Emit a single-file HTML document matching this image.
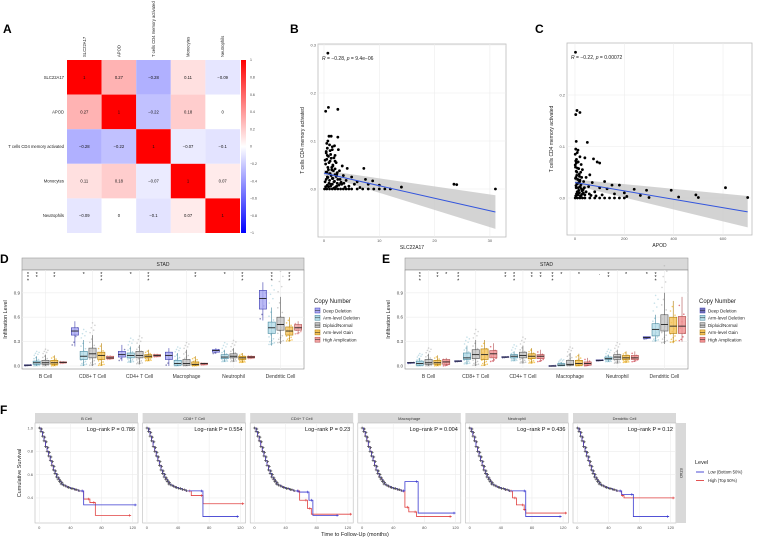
<!DOCTYPE html>
<html><head><meta charset="utf-8"><style>
html,body{margin:0;padding:0;background:#fff;}
svg{display:block;font-family:"Liberation Sans",sans-serif;}
</style></head><body>
<svg id="fig" width="760" height="539" viewBox="0 0 760 539" xmlns="http://www.w3.org/2000/svg"></svg>
<script>
// ---------- DATA ----------
const hmLabels = ["SLC22A17","APOD","T cells CD4 memory activated","Monocytes","Neutrophils"];
const hmValues = [[1,0.27,-0.28,0.11,-0.09],[0.27,1,-0.22,0.18,0],[-0.28,-0.22,1,-0.07,-0.1],[0.11,0.18,-0.07,1,0.07],[-0.09,0,-0.1,0.07,1]];
const cbTicks = [1,0.8,0.6,0.4,0.2,0,-0.2,-0.4,-0.6,-0.8,-1];

const bX = [0.7,0.3,0.8,2.5,0.9,1.3,2.5,0.5,1,0.6,1.5,2.6,0.4,1.2,2,0.8,1.8,0.5,1.1,2.2,0.3,1.6,3.3,0.7,4.2,7.2,1.4,2.8,0.4,1,2,3.5,5,0.6,1.5,2.5,7.5,8.8,4,6,0.2,3,1.2,5.5,8,10,2.3,0.8,23.5,24,14,31,0.1,0.5,1,1.5,2,2.5,3,3.5,4,4.5,5,6,7,8,9,10,11,12,1.8,3.8,6.5,
 0.3,0.6,0.9,1.2,1.5,1.8,2.1,2.4,0.4,0.7,1.0,1.3,1.6,1.9,2.2,2.7,3.1,0.5,0.8,1.1,1.4,1.7,2.0,2.3,2.9,3.6,4.5,0.2,0.9,1.6,2.4,3.2,0.6,1.3,2.0,0.4,1.1,1.9,0.7,1.5];
const bY = [0.283,0.162,0.17,0.166,0.11,0.11,0.108,0.095,0.092,0.085,0.082,0.082,0.075,0.072,0.07,0.068,0.065,0.062,0.058,0.055,0.052,0.05,0.048,0.045,0.043,0.043,0.04,0.038,0.035,0.032,0.03,0.028,0.025,0.025,0.022,0.02,0.02,0.017,0.018,0.015,0.015,0.012,0.01,0.01,0.01,0.008,0.006,0.005,0.01,0.009,0.004,0,0,0,0,0,0,0,0,0,0,0,0,0,0,0,0,0,0,0,0.002,0.004,0.003,
 0.005,0.008,0.012,0.006,0.01,0.015,0.004,0.012,0.02,0.024,0.018,0.028,0.022,0.016,0.026,0.008,0.014,0.035,0.04,0.032,0.045,0.038,0.042,0.03,0.02,0.012,0.006,0.06,0.055,0.048,0.034,0.01,0.07,0.064,0.058,0.078,0.08,0.09,0.1,0.088];
const bFit = [[0,0.033,0.028,0.039],[31,-0.048,-0.083,-0.013]];
const cX = [2,3,8,20,5,50,3,12,1,20,40,75,90,100,5,25,2,15,30,60,8,45,4,20,35,70,120,10,150,180,55,100,130,240,290,390,610,200,80,160,265,420,490,500,700,300,1,10,20,30,40,60,80,100,120,140,160,180,200,210,5,15,25,
 3,6,9,12,15,18,22,26,30,4,8,14,19,24,28,34,40,2,7,11,16,21,33,45,58,65,85,110,5,10,17,27,38,1,13,23,6,18,9,3];
const cY = [0.283,0.162,0.17,0.166,0.11,0.108,0.095,0.093,0.085,0.08,0.078,0.076,0.07,0.068,0.068,0.065,0.06,0.057,0.055,0.045,0.05,0.04,0.04,0.035,0.032,0.03,0.032,0.028,0.025,0.025,0.022,0.02,0.018,0.017,0.015,0.015,0.02,0.01,0.012,0.008,0.005,0.002,0.006,0.001,0.001,0.001,0,0,0,0,0,0,0,0,0,0,0,0,0,0.003,0.02,0.01,0.005,
 0.004,0.008,0.012,0.006,0.015,0.01,0.004,0.018,0.008,0.024,0.028,0.02,0.032,0.026,0.014,0.01,0.006,0.038,0.044,0.036,0.03,0.022,0.016,0.012,0.008,0.005,0.004,0.006,0.052,0.058,0.046,0.04,0.02,0.064,0.07,0.05,0.075,0.042,0.088,0.072];
const cFit = [[0,0.03,0.024,0.036],[700,-0.027,-0.057,0.004]];

const cellTypes = ["B Cell","CD8+ T Cell","CD4+ T Cell","Macrophage","Neutrophil","Dendritic Cell"];
const cnGroups = ["Deep Deletion","Arm-level Deletion","Diploid/Normal","Arm-level Gain","High Amplication"];
const dStats = [
 [[0.01,0.005,0.015,0,0.02],[0.04,0.02,0.06,0,0.12],[0.04,0.02,0.07,0,0.14],[0.04,0.02,0.07,0,0.13],[0.045,0.04,0.05,0.03,0.06]],
 [[0.43,0.38,0.47,0.24,0.55],[0.12,0.08,0.18,0,0.32],[0.15,0.1,0.22,0,0.38],[0.13,0.08,0.17,0,0.28],[0.1,0.09,0.12,0.08,0.13]],
 [[0.14,0.11,0.18,0.06,0.26],[0.13,0.1,0.16,0.04,0.24],[0.13,0.1,0.18,0.02,0.26],[0.12,0.1,0.14,0.06,0.2],[0.13,0.12,0.14,0.11,0.15]],
 [[0.13,0.08,0.17,0,0.22],[0.03,0.01,0.07,0,0.16],[0.03,0.01,0.08,0,0.2],[0.02,0.01,0.05,0,0.12],[0.03,0.02,0.035,0.01,0.04]],
 [[0.19,0.17,0.2,0.15,0.22],[0.11,0.09,0.14,0.05,0.2],[0.12,0.1,0.15,0.05,0.22],[0.1,0.08,0.12,0.04,0.16],[0.11,0.1,0.12,0.09,0.13]],
 [[0.83,0.7,0.93,0.56,1.03],[0.47,0.4,0.54,0.25,0.72],[0.51,0.44,0.6,0.27,0.85],[0.43,0.38,0.48,0.3,0.6],[0.47,0.44,0.51,0.39,0.55]]];
const eStats = [
 [[0.04,0.035,0.045,0.03,0.05],[0.03,0.01,0.06,0,0.1],[0.04,0.02,0.08,0,0.15],[0.04,0.02,0.07,0,0.13],[0.05,0.02,0.08,0,0.1]],
 [[0.06,0.055,0.065,0.05,0.07],[0.1,0.08,0.16,0.02,0.25],[0.14,0.09,0.2,0,0.32],[0.14,0.08,0.21,0,0.32],[0.15,0.1,0.19,0.05,0.28]],
 [[0.11,0.105,0.115,0.1,0.12],[0.12,0.1,0.14,0.06,0.18],[0.13,0.1,0.17,0.03,0.25],[0.12,0.09,0.15,0.03,0.22],[0.12,0.09,0.14,0.05,0.2]],
 [[0,0,0.005,0,0.01],[0.01,0.005,0.03,0,0.05],[0.02,0.01,0.07,0,0.16],[0.03,0.01,0.07,0,0.15],[0.03,0.01,0.05,0,0.1]],
 [[0.07,0.065,0.075,0.06,0.08],[0.09,0.08,0.11,0.05,0.14],[0.11,0.08,0.14,0.03,0.2],[0.1,0.08,0.13,0.04,0.18],[0.1,0.08,0.13,0.05,0.18]],
 [[0.35,0.34,0.36,0.33,0.36],[0.45,0.37,0.52,0.3,0.63],[0.51,0.43,0.63,0.27,0.9],[0.49,0.4,0.6,0.28,0.8],[0.49,0.4,0.61,0.3,0.85]]];
const dStars = [["***","**","","**",""],["","*","","***",""],["","*","","***",""],["","","","**",""],["","*","","***",""],["","***","","***",""]];
const eStars = [["","***","","**","*"],["***","","","",""],["**","***","","**","**"],["***","*","","*",""],["·","**","","*",""],["*","***","","",""]];
const boxTicks = [0,0.3,0.6,0.9];

const kmPanels = ["B Cell","CD8+ T Cell","CD4+ T Cell","Macrophage","Neutrophil","Dendritic Cell"];
const kmPvals = ["0.786","0.554","0.23","0.004","0.436","0.12"];
const kmEarlyT = [0,2,4,6,8,10,12,14,16,18,20,22,24,26,28,30,33,36,40,45,50];
const kmEarlyS = [1,0.97,0.93,0.89,0.84,0.8,0.76,0.72,0.68,0.64,0.61,0.58,0.56,0.54,0.52,0.51,0.5,0.49,0.48,0.47,0.46];
const kmLowTailT = [[57,125],[72,118],[57,70,75,108],[55,72,120],[72,118],[57,72,118]];
const kmLowTailS = [[0.34,0.34],[0.24,0.24],[0.45,0.38,0.25,0.25],[0.54,0.27,0.27],[0.24,0.24],[0.43,0.24,0.24]];
const kmHighTailT = [[57,65,72,118],[57,72,125],[58,68,73,125],[55,60,70,115],[55,60,70,72,125],[57,60,125]];
const kmHighTailS = [[0.39,0.36,0.25,0.25],[0.42,0.35,0.35],[0.38,0.31,0.26,0.26],[0.32,0.28,0.24,0.24],[0.4,0.34,0.3,0.27,0.27],[0.42,0.4,0.4]];
const kmTicksY = [0.4,0.6,0.8,1.0];
const kmTicksX = [0,40,80,120];

// ---------- HELPERS ----------
const NS="http://www.w3.org/2000/svg";
const svg=document.getElementById('fig');
function mk(tag,attrs,parent){const e=document.createElementNS(NS,tag);for(const k in attrs)e.setAttribute(k,attrs[k]);(parent||svg).appendChild(e);return e;}
function txt(s,x,y,size,opts,parent){const t=mk('text',Object.assign({x:x,y:y,'font-size':size,fill:'#222'},opts||{}),parent);t.textContent=s;return t;}
function grp(name){const g=mk('g',{});return g;}

[["A",3,33],["B",290,33],["C",535,33],["D",0,263],["E",382,263],["F",0,414]].forEach(l=>{
 const t=txt(l[0],l[1],l[2],12,{'font-weight':'bold',fill:'#000'});
 
 
});

// ---------- PANEL A ----------
(function(){
 const g=grp('correlation-heatmap');
 const x0=67,y0=60,cs=34.6;
 function col(v){const a=Math.abs(v);const c=Math.round(255*Math.max(0,1-a*1.1));return v>=0?`rgb(255,${c},${c})`:`rgb(${c},${c},255)`;}
 hmValues.forEach((row,i)=>row.forEach((v,j)=>{
  const r=mk('rect',{x:x0+j*cs,y:y0+i*cs,width:cs,height:cs,fill:col(v)},g);
  
  
  txt(String(v).replace('-','−'),x0+j*cs+cs/2,y0+i*cs+cs/2+1.5,4.2,{'text-anchor':'middle',fill:'#111'},g);
 }));
 hmLabels.forEach((l,i)=>{
  const t=txt(l,64,y0+i*cs+cs/2+1.5,4.2,{'text-anchor':'end'},g);
  
  
  const c=txt(l,0,0,4.2,{transform:`translate(${x0+i*cs+cs/2+1.5},57) rotate(-90)`},g);
  
  
 });
 const defs=mk('defs',{});
 const lg=mk('linearGradient',{id:'cbg',x1:0,y1:0,x2:0,y2:1},defs);
 mk('stop',{offset:'0','stop-color':'#ff0000'},lg);
 mk('stop',{offset:'0.5','stop-color':'#ffffff'},lg);
 mk('stop',{offset:'1','stop-color':'#0000ff'},lg);
 const cb=mk('rect',{x:241,y:60,width:5,height:173,fill:'url(#cbg)'},g);
 
 
 cbTicks.forEach(v=>{const y=60+(1-v)/2*173;txt(String(v).replace('-','−'),250,y+1.2,3.5,{fill:'#444'},g);});
})();

// ---------- SCATTER B, C ----------
function scatter(name,box,xdom,ydom,xticks,yticks,xs,ys,fit,ann,xlab){
 const g=grp(name);
 const [L,T,R,B]=box;
 const sx=v=>xdom[2]+(v-xdom[0])*xdom[3];
 const sy=v=>ydom[2]-(v-ydom[0])*ydom[3];
 mk('rect',{x:L,y:T,width:R-L,height:B-T,fill:'#fff',stroke:'#bbb','stroke-width':0.8},g);
 xticks.forEach(v=>{mk('line',{x1:sx(v),x2:sx(v),y1:T,y2:B,stroke:'#ececec','stroke-width':0.6},g);txt(String(v),sx(v),B+5,4,{'text-anchor':'middle',fill:'#555'},g);});
 yticks.forEach(v=>{mk('line',{x1:L,x2:R,y1:sy(v),y2:sy(v),stroke:'#ececec','stroke-width':0.6},g);txt(v.toFixed(1),L-2,sy(v)+1.3,4,{'text-anchor':'end',fill:'#555'},g);});
 const band=mk('polygon',{points:`${sx(fit[0][0])},${sy(fit[0][3])} ${sx(fit[1][0])},${sy(fit[1][3])} ${sx(fit[1][0])},${sy(fit[1][2])} ${sx(fit[0][0])},${sy(fit[0][2])}`,fill:'#c8c8c8',opacity:0.8},g);
 
 
 xs.forEach((v,i)=>{const c=mk('circle',{cx:sx(v),cy:sy(ys[i]),r:1.4,fill:'#000'},g);
  
  });
 const ln=mk('line',{x1:sx(fit[0][0]),y1:sy(fit[0][1]),x2:sx(fit[1][0]),y2:sy(fit[1][1]),stroke:'#3355dd','stroke-width':1},g);
 
 
 const a=txt('',L+4,T+16,5,{fill:'#222'},g);a.innerHTML=ann;
 
 
 const xt=txt(xlab,(L+R)/2,B+12,5,{'text-anchor':'middle'},g);
 
 
 const yt=txt('T cells CD4 memory activated',0,0,5,{'text-anchor':'middle',transform:`translate(${L-14},${(T+B)/2}) rotate(-90)`},g);
 
 
}
scatter('scatter-b',[318,44,506,237],[0,0,324,5.53],[0,0,189,480],[0,10,20,30],[0,0.1,0.2,0.3],bX,bY,bFit,'<tspan font-style="italic">R</tspan> = −0.28, <tspan font-style="italic">p</tspan> = 9.4e−06','SLC22A17');
scatter('scatter-c',[567,43,752,235],[0,0,575,0.2467],[0,0,198,515],[0,200,400,600],[0,0.1,0.2],cX,cY,cFit,'<tspan font-style="italic">R</tspan> = −0.22, <tspan font-style="italic">p</tspan> = 0.00072','APOD');

// ---------- BOX PANELS D, E ----------
const dFill=['#a9a9f2','#b4dce8','#c4c4c4','#f4c35a','#f0a0a0'];
const dLine=['#4040b0','#4a8aa0','#555','#b07a00','#b05050'];
const ePts=['#303078','#8fc3d3','#a8a8a8','#f0a800','#d02030'];
const dPts=['#404090','#8fc3d3','#a8a8a8','#f0a800','#e07070'];
const eFill=['#7070b8','#b4dce8','#c4c4c4','#f4c35a','#f09090'];
function boxPanel(name,L,R,stats,stars,fills,lines,pts,legX){
 const g=grp(name);
 const T=270,B=369,y0=366,k=24.4/0.3;
 const sy=v=>y0-v*k;
 const cw=(R-L)/6;
 const st=mk('rect',{x:L,y:258,width:R-L,height:12,fill:'#d9d9d9',stroke:'#999','stroke-width':0.6},g);
 
 
 txt('STAD',(L+R)/2,266,5,{'text-anchor':'middle'},g);
 mk('rect',{x:L,y:T,width:R-L,height:B-T,fill:'#fff',stroke:'#888','stroke-width':0.6},g);
 boxTicks.forEach(v=>{mk('line',{x1:L,x2:R,y1:sy(v),y2:sy(v),stroke:'#ececec','stroke-width':0.6},g);txt(v.toFixed(1),L-2,sy(v)+1.5,4.5,{'text-anchor':'end',fill:'#444'},g);});
 cellTypes.forEach((c,ci)=>{
  const cx=L+cw*(ci+0.5);
  mk('line',{x1:cx,x2:cx,y1:T,y2:B,stroke:'#ececec','stroke-width':0.6},g);
  const lab=txt(c,cx,378,5,{'text-anchor':'middle',fill:'#333'},g);
  
  
  stats[ci].forEach((s,gi)=>{
   const x=cx+(gi-2)*8.8;
   const n=gi==0?4:(gi==4?8:16);
   for(let p=0;p<n;p++){const f=(p+0.5)/n;const v=s[3]+(s[4]-s[3])*f*f*0.9+(s[1]-s[3])*0.1;
    mk('circle',{cx:x+((p*37)%7-3)*0.9,cy:sy(v),r:0.8,fill:pts[gi],opacity:0.6},g);}
   if(gi==2||gi==1){for(let p=0;p<5;p++){mk('circle',{cx:x+((p*3)%5-2)*1.2,cy:sy(s[4]+(p+1)*0.07*(s[4]+0.05)),r:0.8,fill:pts[gi],opacity:0.5},g);}}
   mk('line',{x1:x,x2:x,y1:sy(s[3]),y2:sy(s[4]),stroke:lines[gi],'stroke-width':0.6},g);
   const b=mk('rect',{x:x-3.6,y:sy(s[2]),width:7.2,height:Math.max(0.8,sy(s[1])-sy(s[2])),fill:fills[gi],'fill-opacity':0.8,stroke:lines[gi],'stroke-width':0.6},g);
   
   
   mk('line',{x1:x-3.6,x2:x+3.6,y1:sy(s[0]),y2:sy(s[0]),stroke:'#222','stroke-width':0.9},g);
   const sstr=stars[ci][gi];
   if(sstr){const t=mk('text',{x:x,y:274,'font-size':5.5,'text-anchor':'middle',fill:'#222'},g);
    for(let q=0;q<sstr.length;q++){const ts=mk('tspan',{x:x,dy:q==0?2:3.2},t);ts.textContent=sstr[q];}
    
    }
  });
 });
 const yt=txt('Infiltration Level',0,0,5.5,{'text-anchor':'middle',transform:`translate(${L-15},${(T+B)/2}) rotate(-90)`},g);
 
 
 const lgd=grp(name+'-legend');g.appendChild(lgd);
 txt('Copy Number',legX,303,6,{},lgd);
 cnGroups.forEach((n,i)=>{const y=308+i*7.3;
  const k2=mk('rect',{x:legX+1,y:y,width:5,height:5,fill:fills[i],stroke:lines[i],'stroke-width':0.5},lgd);
  
  
  mk('line',{x1:legX+1,x2:legX+6,y1:y+2.5,y2:y+2.5,stroke:'#222','stroke-width':0.5},lgd);
  txt(n,legX+9,y+4.3,4.5,{},lgd);});
}
boxPanel('boxplot-d',22,304,dStats,dStars,dFill,dLine,dPts,314);
boxPanel('boxplot-e',405,688,eStats,eStars,eFill,dLine,ePts,699);

// ---------- PANEL F ----------
(function(){
 const g=grp('km-survival-panels');
 const T=423,B=523;
 const sy=v=>428+(1-v)*116.5;
 kmPanels.forEach((name,pi)=>{
  const L=35+pi*107.6,R=L+103;
  const sx=t=>L+4.3+t*(93.4/120);
  const st=mk('rect',{x:L,y:413,width:R-L,height:10,fill:'#d9d9d9'},g);
  
  
  txt(name,(L+R)/2,420,4,{'text-anchor':'middle',fill:'#333'},g);
  mk('rect',{x:L,y:T,width:R-L,height:B-T,fill:'#fff',stroke:'#bbb','stroke-width':0.6},g);
  kmTicksX.forEach(v=>{mk('line',{x1:sx(v),x2:sx(v),y1:T,y2:B,stroke:'#ececec','stroke-width':0.6},g);txt(String(v),sx(v),529,4,{'text-anchor':'middle',fill:'#555'},g);});
  kmTicksY.forEach(v=>{mk('line',{x1:L,x2:R,y1:sy(v),y2:sy(v),stroke:'#ececec','stroke-width':0.6},g);if(pi==0)txt(v.toFixed(1),L-2,sy(v)+1.3,4,{'text-anchor':'end',fill:'#555'},g);});
  function curve(tt,ss,color,nm){
   const T2=kmEarlyT.concat(tt),S2=kmEarlyS.concat(ss);
   let d=`M${sx(T2[0])},${sy(S2[0])}`;
   for(let i=1;i<T2.length;i++){d+=` H${sx(T2[i])} V${sy(S2[i])}`;}
   const p=mk('path',{d:d,fill:'none',stroke:color,'stroke-width':0.8},g);
   
   
   for(let i=1;i<T2.length;i++){const x=sx(T2[i])-1.5,y=sy(S2[i-1]);
    mk('path',{d:`M${x-1.3},${y}h2.6M${x},${y-1.3}v2.6`,stroke:i<kmEarlyT.length?'#555':color,'stroke-width':0.6},g);
    if(i<kmEarlyT.length)mk('path',{d:`M${x+1},${y+1}h2.6M${x+2.3},${y-0.3}v2.6`,stroke:'#555','stroke-width':0.6},g);}
  }
  curve(kmHighTailT[pi],kmHighTailS[pi],'#e04040','km-high-curve');
  curve(kmLowTailT[pi],kmLowTailS[pi],'#3a3ad0','km-low-curve');
  const pv=txt('Log−rank P = '+kmPvals[pi],R-3,431,5.5,{'text-anchor':'end',fill:'#111'},g);
  
  
 });
 mk('rect',{x:676,y:423,width:10,height:100,fill:'#d9d9d9'},g);
 txt('STAD',0,0,4,{'text-anchor':'middle',transform:'translate(680,473) rotate(90)'},g);
 const yt=txt('Cumulative Survival',0,0,5.5,{'text-anchor':'middle',transform:'translate(21,473) rotate(-90)'},g);
 
 
 const xt=txt('Time to Follow-Up (months)',355,536,5.5,{'text-anchor':'middle'},g);
 
 
 const lg=grp('km-legend');g.appendChild(lg);
 txt('Level',695,464,5.5,{},lg);
 [['Low (Bottom 50%)','#3a3ad0'],['High (Top 50%)','#e04040']].forEach((e,i)=>{const y=472+i*8.5;
  const l=mk('line',{x1:696,x2:704,y1:y,y2:y,stroke:e[1],'stroke-width':0.9},lg);
  
  
  txt(e[0],708,y+1.5,4.2,{},lg);});
})();
</script>
</body></html>
